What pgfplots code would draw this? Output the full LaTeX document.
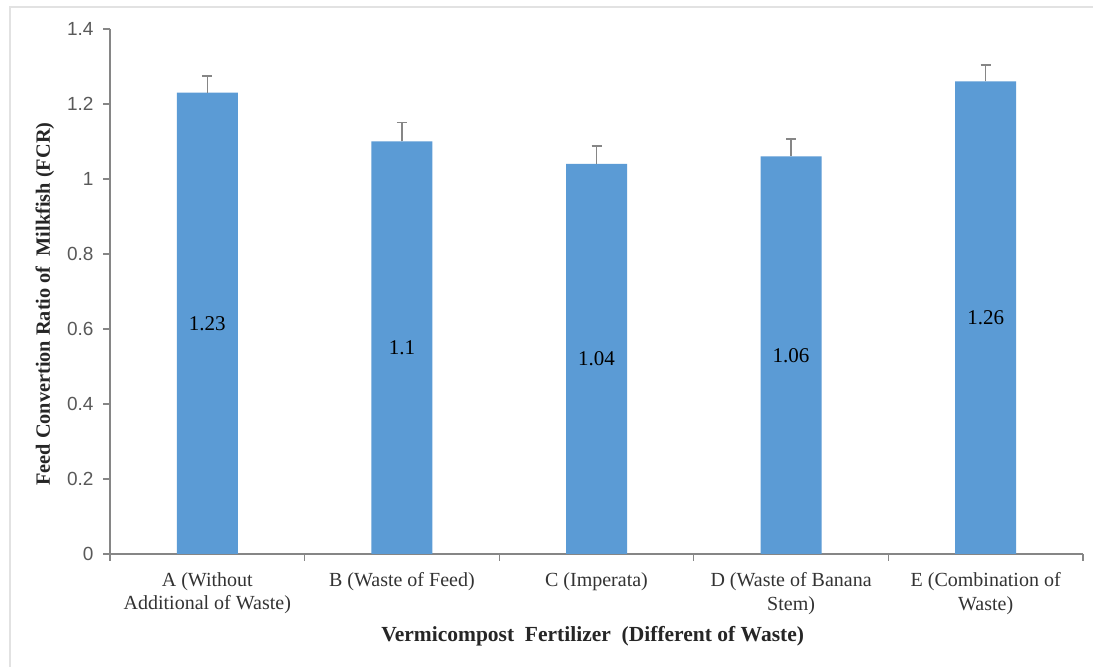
\documentclass[border=0pt]{standalone}
\usepackage{fontspec}
\setmainfont{Liberation Serif}
\newfontfamily\arialf{Liberation Sans}
\usepackage{pgfplots}
\pgfplotsset{compat=1.18}
\definecolor{barblue}{HTML}{5B9BD5}
\definecolor{axgray}{HTML}{868686}
\definecolor{tickgray}{HTML}{595959}
\definecolor{framegray}{HTML}{E2E2E2}
\begin{document}
\begin{tikzpicture}
\useasboundingbox (0,0) rectangle (1093pt,667pt);
\fill[white] (0,0) rectangle (1093pt,667pt);
\draw[framegray, line width=1.5pt] (10pt,-2pt) -- (10pt,660pt) -- (1095pt,660pt);
\begin{axis}[
  at={(110pt,113pt)}, anchor=south west,
  scale only axis, width=973pt, height=525pt,
  xmin=-0.5, xmax=4.5, ymin=0, ymax=1.4,
  axis x line*=bottom, axis y line*=left,
  axis line style={axgray, line width=1.2pt},
  tick align=outside,
  major tick length=7pt, minor tick length=7pt,
  tick style={axgray, line width=1.2pt},
  ytick={0,0.2,0.4,0.6,0.8,1,1.2,1.4},
  yticklabels={0,0.2,0.4,0.6,0.8,1,1.2,1.4},
  yticklabel style={font=\fontsize{19}{22}\selectfont\arialf, text=tickgray, xshift=-6pt},
  xtick={0,1,2,3,4},
  major x tick style={draw=none},
  minor xtick={-0.5,0.5,1.5,2.5,3.5,4.5},
  xticklabels={{A (Without\\Additional of Waste)},{B (Waste of Feed)},{C (Imperata)},{D (Waste of Banana\\Stem)},{E (Combination of\\Waste)}},
  xticklabel style={font=\fontsize{20}{23.5}\selectfont, align=center, text=black!80, anchor=north, yshift=-8pt},
  xlabel={Vermicompost\ \ Fertilizer\ \ (Different of Waste)},
  xlabel style={font=\fontsize{21.5}{25}\selectfont\bfseries, text=black!85, at={(axis description cs:0.496,-0.157)}, anchor=center},
  ylabel={Feed Convertion Ratio of\ \ Milkfish (FCR)},
  ylabel style={font=\fontsize{20.3}{24}\selectfont\bfseries, text=black!85, at={(axis description cs:-0.067,0.476)}, anchor=center, rotate=0},
  clip=false,
]
\addplot[ybar, bar width=61pt, fill=barblue, draw=none,
  error bars/.cd, y dir=plus, y explicit,
  error bar style={axgray, line width=1.4pt},
  error mark options={rotate=90, mark size=5pt, axgray, line width=1.4pt}]
  coordinates {
  (0,1.23) +- (0,0.045)
  (1,1.10) +- (0,0.05)
  (2,1.04) +- (0,0.048)
  (3,1.06) +- (0,0.047)
  (4,1.26) +- (0,0.044)
  };
\addplot[only marks, mark=none, nodes near coords, point meta=explicit symbolic,
  nodes near coords style={anchor=center, font=\fontsize{21}{25}\selectfont, text=black}]
  coordinates {
  (0,0.615) [1.23]
  (1,0.55) [1.1]
  (2,0.52) [1.04]
  (3,0.53) [1.06]
  (4,0.63) [1.26]
  };
\end{axis}
\end{tikzpicture}
\end{document}
